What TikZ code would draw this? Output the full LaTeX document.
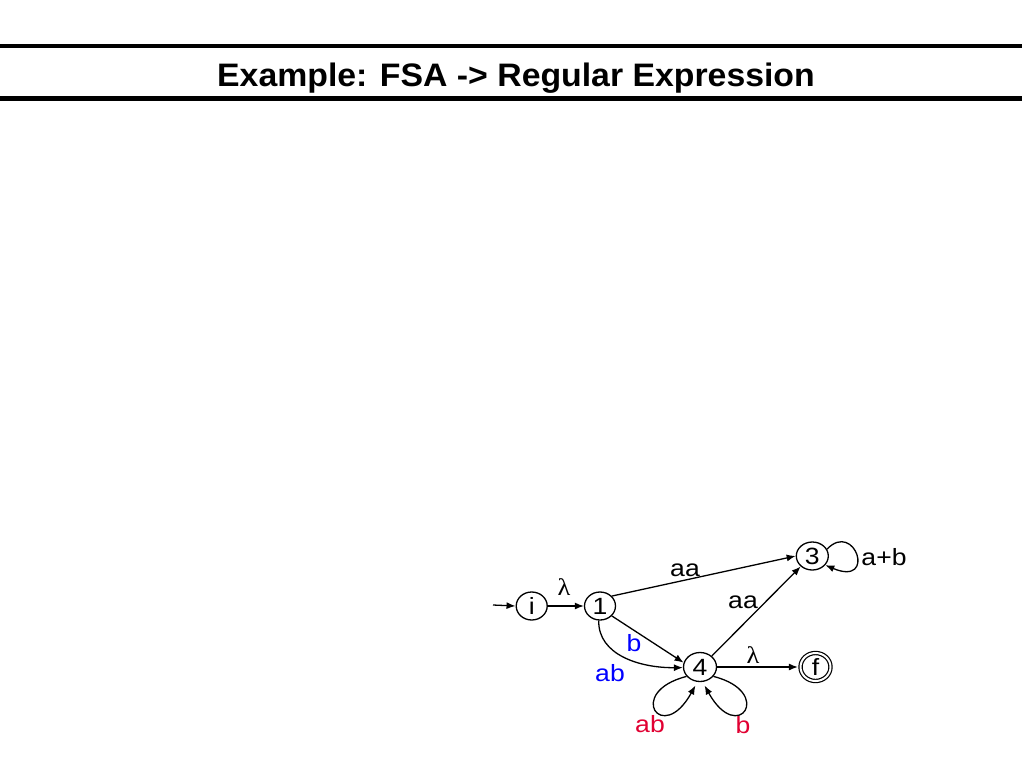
\documentclass[tikz,border=0pt]{standalone}
\usepackage{fontspec}
\setmainfont{Liberation Sans}
\newfontfamily\labfont[FakeStretch=1.13]{Liberation Sans}
\newfontfamily\ttlfont[FakeStretch=1.04]{Liberation Sans}
\newfontfamily\lamfont[FakeStretch=1.1]{Liberation Serif}
\usetikzlibrary{arrows.meta,shapes.geometric}
\definecolor{lblue}{RGB}{0,0,255}
\definecolor{lred}{RGB}{225,0,50}
\begin{document}
\begin{tikzpicture}[x=1pt,y=-1pt,
  state/.style={ellipse,draw,line width=1.3pt,minimum width=31pt,minimum height=28pt,inner sep=0pt,font=\labfont\fontsize{23.5}{23.5}\selectfont},
  accept/.style={state,line width=1.2pt,minimum width=30pt,minimum height=28pt,double,double distance=2pt,outer sep=2.6pt},
  tr/.style={line width=1.3pt,-{Latex[length=9pt,width=7pt]}},
  lab/.style={inner sep=0pt,font=\labfont\fontsize{23.5}{23.5}\selectfont},
  lam/.style={inner sep=0pt,font=\lamfont\fontsize{24}{24}\selectfont},
  bar/.style={line width=4.5pt}]
\useasboundingbox (0,0) rectangle (1024,768);
\fill[white] (0,0) rectangle (1024,768);
% title and bars
\coordinate (tl) at (0,46);
\coordinate (tr) at (1022,46);
\coordinate (bl) at (0,98.5);
\coordinate (br) at (1022,98.5);
\draw[bar] (tl) -- (tr);
\draw[bar] (bl) -- (br);
\node[anchor=base,inner sep=0pt,font=\ttlfont\bfseries\fontsize{32.5}{32.5}\selectfont] (title) at (516,86.3) {Example: FSA -> Regular Expression};
% states
\node[state] (i) at (531.7,606) {i};
\node[state] (n1) at (600,606) {1};
\node[state,minimum width=32pt] (n3) at (812.3,556) {3};
\node[state,minimum width=33pt,minimum height=29pt] (n4) at (700,667) {4};
\node[accept] (f) at (815.5,667) {f};
\coordinate (start) at (493,605);
% transitions
\draw[tr] (start) -- (i.west);
\draw[tr] (i.east) -- (n1.west);
\draw[tr] (n1.40) -- (n3.180);
\draw[tr] (n4.43) -- (n3.-138);
\draw[tr] (n1.-40) -- (n4.165);
\draw[tr] (n1.-95) .. controls (598,655) and (640,668) .. (n4.182);
\draw[tr] (n4.east) -- (f.west);
\draw[tr] (n3.25) .. controls (855,520) and (877,587) .. (n3.-35);
\draw[tr,shorten >=4pt] (n4.215) .. controls (625,692) and (662,746) .. (n4.-100);
\draw[tr,shorten >=4pt] (n4.-35) .. controls (775,692) and (738,746) .. (n4.-80);
% labels
\node[lam] (l1) at (564,587) {λ};
\node[lab] (aa1) at (685,570) {aa};
\node[lab] (aa2) at (743,602) {aa};
\node[lab,text=lblue] (b1) at (634,643) {b};
\node[lab,text=lblue] (ab1) at (610,673) {ab};
\node[lam] (l2) at (753,655) {λ};
\node[lab] (apb) at (884,557) {a+b};
\node[lab,text=lred] (ab2) at (650,724) {ab};
\node[lab,text=lred] (b2) at (743,725) {b};
\end{tikzpicture}
\end{document}
